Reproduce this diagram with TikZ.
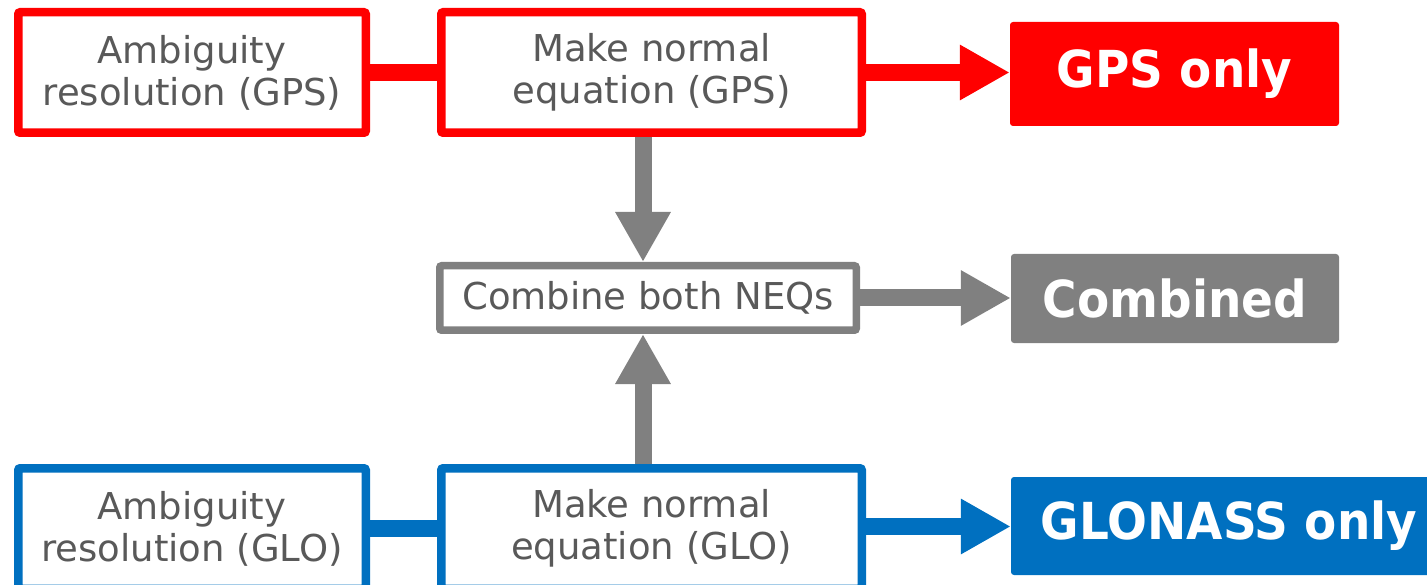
\documentclass[tikz,border=0pt]{standalone}
\usepackage{fontspec}
\setmainfont{DejaVu Sans}
\newfontfamily\labelfont{DejaVu Sans}[FakeStretch=0.92]
\usetikzlibrary{arrows.meta}

\definecolor{gpsred}{HTML}{FF0000}
\definecolor{glob}{HTML}{0070C0}
\definecolor{neqgray}{HTML}{808080}
\definecolor{txtgray}{HTML}{595959}

\begin{document}
\begin{tikzpicture}[x=1pt,y=-1pt,
  stepbox/.style={draw, line width=8.5pt, fill=white, text=txtgray,
    align=center, inner sep=0pt, rounded corners=2pt,
    font=\fontsize{37}{42}\selectfont},
  resultbox/.style={inner sep=0pt, rounded corners=3pt, text=white,
    font=\labelfont\bfseries\fontsize{51}{60}\selectfont},
  link/.style={line width=17pt},
  flow/.style={line width=17pt, -{Triangle[length=50pt,width=52pt]}}
]
  \path[use as bounding box, clip] (0,0) rectangle (1427,585);

  % GPS branch
  \node[stepbox, draw=gpsred, minimum width=347.5pt, minimum height=120.5pt]
    (ar1) at (192,72.5) {Ambiguity\\resolution (GPS)};
  \node[stepbox, draw=gpsred, minimum width=420.5pt, minimum height=120.5pt]
    (ne1) at (651.5,72.5) {Make normal\\equation (GPS)};
  \node[resultbox, fill=gpsred, minimum width=329pt, minimum height=104pt]
    (gps) at (1174.5,74) {GPS only};

  % combination
  \node[stepbox, draw=neqgray, line width=7.5pt, minimum width=416.5pt, minimum height=64.5pt]
    (cb) at (648,298) {Combine both NEQs};
  \node[resultbox, fill=neqgray, minimum width=328pt, minimum height=89pt]
    (comb) at (1175,298.5) {Combined};

  % GLONASS branch
  \node[stepbox, draw=glob, minimum width=347.5pt, minimum height=120.5pt]
    (ar2) at (192,528.5) {Ambiguity\\resolution (GLO)};
  \node[stepbox, draw=glob, minimum width=420.5pt, minimum height=120.5pt]
    (ne2) at (651.5,528.5) {Make normal\\equation (GLO)};
  \node[resultbox, fill=glob, minimum width=436pt, minimum height=98pt]
    (glo) at (1229,526) {GLONASS only};

  % connectors
  \draw[link, gpsred] (ar1.east) -- (ne1.west);
  \draw[flow, gpsred] (ne1.east) -- (ne1.east -| gps.west);
  \draw[flow, neqgray] ([xshift=-8.5pt]ne1.south) -- ([xshift=-5pt]cb.north);
  \draw[flow, neqgray] (cb.east) -- (cb.east -| comb.west);
  \draw[flow, neqgray] ([xshift=-8.5pt]ne2.north) -- ([xshift=-5pt]cb.south);
  \draw[link, glob] (ar2.east) -- (ne2.west);
  \draw[flow, glob] ([yshift=2pt]ne2.east) -- ([yshift=2pt]ne2.east -| glo.west);
\end{tikzpicture}
\end{document}
